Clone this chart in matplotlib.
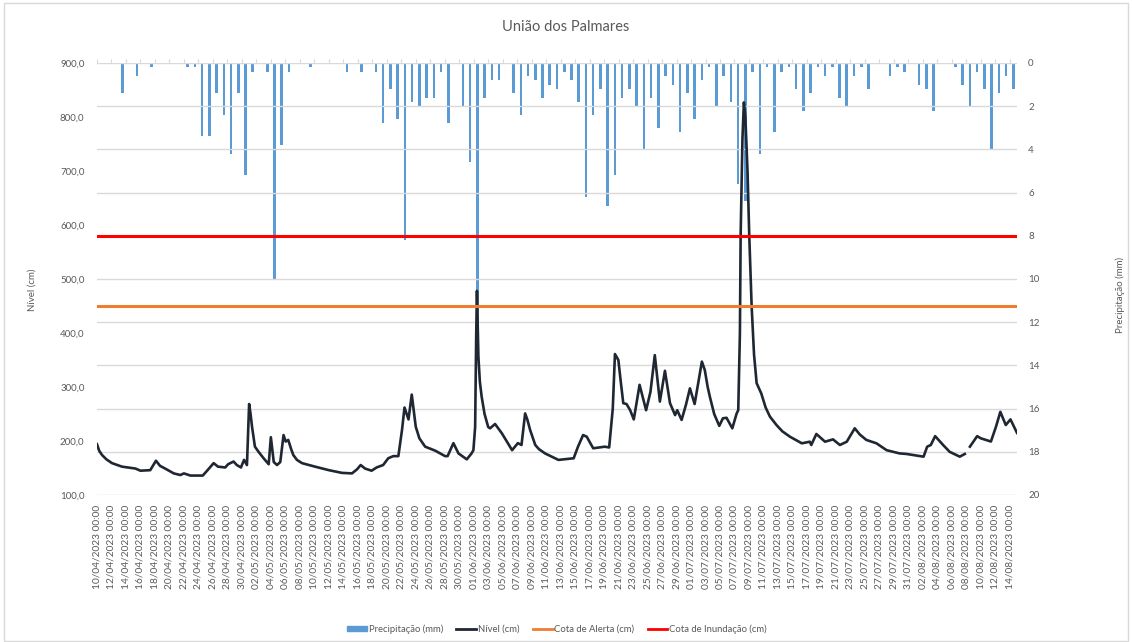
import numpy as np
import pandas as pd
import matplotlib
matplotlib.use("Agg")
import matplotlib.pyplot as plt
from matplotlib.patches import Patch, Rectangle
from matplotlib.lines import Line2D

plt.rcParams['font.family'] = ['Lato', 'DejaVu Sans']

# Precipitação diária (mm), de 10/04/2023 a 14/08/2023 (127 dias)
inicio = pd.Timestamp('2023-04-10')
datas = pd.date_range(inicio, '2023-08-14', freq='D')
precip = np.zeros(len(datas))
precip_dias = [3, 5, 7, 12, 13, 14, 15, 16, 17, 18, 19, 20, 21, 23, 24, 25, 26, 29,
               34, 36, 38, 39, 40, 41, 42, 43, 44, 45, 46, 47, 48, 50, 51, 52, 53,
               54, 55, 57, 58, 59, 60, 61, 62, 63, 64, 65, 66, 67, 68, 69, 70, 71,
               72, 73, 74, 75, 76, 77, 78, 79, 80, 81, 82, 83, 84, 85, 86, 87, 88,
               89, 90, 91, 92, 93, 94, 95, 96, 97, 98, 99, 100, 101, 102, 103, 104,
               105, 106, 109, 110, 111, 113, 114, 115, 118, 119, 120, 121, 122, 123,
               124, 125, 126]
precip_vals = [1.4, 0.6, 0.2, 0.2, 0.2, 3.4, 3.4, 1.4, 2.4, 4.2, 1.4, 5.2, 0.4, 0.4,
               10.0, 3.8, 0.4, 0.2,
               0.4, 0.4, 0.4, 2.8, 1.2, 2.6, 8.2, 1.8, 2.0, 1.6, 1.6, 0.4, 2.8, 2.0,
               4.6, 13.6, 1.6, 0.8, 0.8, 1.4, 2.4, 0.6, 0.8, 1.6, 1.0, 1.2, 0.4,
               0.8, 1.8, 6.2, 2.4, 1.2, 6.6, 5.2, 1.6, 1.2, 2.0, 4.0, 1.6, 3.0,
               0.6, 1.0, 3.2, 1.4, 2.6, 0.8, 0.2, 2.0, 0.6, 1.8, 5.6, 6.4, 0.4,
               4.2, 0.2, 3.2, 0.4, 0.2, 1.2, 2.2, 1.4, 0.2, 0.6, 0.2, 1.6, 2.0,
               0.6, 0.2, 1.2, 0.6, 0.2, 0.4, 1.0, 1.2, 2.2, 0.2, 1.0, 2.0, 0.4,
               1.2, 4.0, 1.4, 0.6, 1.2]
precip[precip_dias] = precip_vals

# Nível (cm): instante em dias desde 10/04/2023 00:00 e valor lido
nivel_t = [0, 0.3, 0.7, 1.3, 2.07, 3.45, 5.3, 6.0, 7.35, 8.14, 8.7, 9.4, 10.6, 11.5,
           12.0, 12.9, 14.6, 15.2, 16.1, 16.7, 17.7, 18.1, 18.85, 19.3, 19.87,
           20.3, 20.7, 21.0, 21.2, 21.4, 21.8, 22.3, 23.0, 23.7, 24.0, 24.4, 24.85,
           25.3, 25.75, 26.05, 26.4, 26.8, 27.1, 27.6, 28.3, 30.1, 32.0, 33.8, 35.2,
           35.9, 36.4, 37.0, 37.9, 38.6, 39.5, 40.2, 40.9, 41.6, 42.1, 42.45, 43.0,
           43.45, 44.0, 44.5, 45.3, 46.7, 48.05, 48.4, 49.2, 49.9, 51.05, 51.7,
           51.96, 52.2, 52.35, 52.45, 52.65, 52.85, 53.1, 53.5, 54.0, 54.26, 54.95,
           55.9, 57.3, 58.1, 58.6, 59.1, 59.4, 59.8, 60.5, 61.0, 61.85, 63.7, 65.8,
           66.4, 67.1, 67.6, 68.5, 70.1, 70.7, 71.2, 71.5, 71.97, 72.3, 72.65, 73.1,
           73.6, 74.1, 74.9, 75.8, 76.4, 77.0, 77.7, 78.4, 79.1, 79.8, 80.1, 80.7,
           81.3, 81.85, 82.5, 83.5, 83.9, 84.3, 84.6, 85.2, 85.9, 86.4, 86.9, 87.7,
           88.3, 88.52, 88.75, 88.85, 89.1, 89.3, 89.5, 89.8, 90.04, 90.37, 90.7,
           91.06, 91.7, 92.3, 92.9, 93.8, 94.6, 95.65, 97.3, 98.4, 98.6, 99.3,
           100.5, 101.6, 102.55, 103.5, 104.6, 105.3, 106.2, 107.6, 109.0, 110.8,
           111.75, 113.6, 114.1, 114.6, 115.1, 115.7, 116.3, 116.8, 117.7, 119.1,
           119.8, 120.1, 120.5, 121.5, 122.0, 123.4, 124.1, 124.7, 125.45, 126.1,
           127.0]
nivel = [194, 182, 174, 166, 159, 152.5, 149, 145, 146, 163.5, 154, 149, 140, 137,
         140, 136, 136, 145, 159, 152.5, 151, 157, 162, 155.5, 151,
         165, 155.5, 268.5, 250, 226.5, 189.5, 180, 168, 157, 207, 161, 155.5,
         161, 211, 199, 202, 185, 174, 165, 159, 152.5, 146, 141, 140,
         147.6, 155.5, 149, 145, 151, 155.5, 168, 172, 172, 220, 262, 240,
         286, 226.5, 205, 189.5, 182, 172, 172, 196, 177, 166, 177,
         183, 226, 400, 478, 356, 310, 282, 250, 226, 223.5, 231.5,
         214, 183, 196, 192.6, 251, 240, 220, 192.6, 185, 177, 165, 168,
         189.5, 211, 208, 186.5, 189.5, 188, 260, 361, 350, 310, 270, 268.5,
         257, 240, 304, 257, 291, 359, 273, 330, 270, 248, 257, 239,
         267, 297.5, 268.5, 347, 331.5, 300, 282, 250, 228, 242, 243, 223.5,
         251, 257, 400, 580, 760, 827, 800, 700, 580, 449, 360,
         307, 288, 262, 245, 229.6, 218, 208, 195.7, 198.7, 192.6, 213,
         198.7, 203, 192.6, 198.7, 223.5, 212, 202, 195.7, 183, 177,
         176, 172, 171, 189.5, 192.6, 209, 200, 192.6, 180, 171,
         176, np.nan, 189.5, 209, 205, 199, 226.5, 254, 229.6, 240,
         215]

cota_alerta = 450
cota_inundacao = 580

cinza = '#595959'
fig = plt.figure(figsize=(11.32, 6.42), dpi=100)
ax = fig.add_axes([97 / 1132, 1 - 495 / 642, 920 / 1132, 432 / 642])
ax2 = ax.twinx()

# barras de precipitação no eixo secundário (invertido)
ax2.bar(np.arange(len(datas)) + 0.5, precip, width=0.35, color='#5b9bd5')
ax2.set_ylim(20, 0)
ax2.set_yticks(np.arange(0, 21, 2))
ax2.grid(axis='y', color='#d9d9d9', linewidth=1)
ax2.tick_params(axis='y', length=0, labelsize=7, labelcolor=cinza, pad=8)

# nível e cotas no eixo principal
ax.plot(nivel_t, nivel, color='#1f2733', linewidth=1.9, solid_joinstyle='round')
ax.axhline(cota_alerta, color='#ed7d31', linewidth=2.2)
ax.axhline(cota_inundacao, color='#ff0000', linewidth=2.2)
ax.set_zorder(ax2.get_zorder() + 1)
ax.patch.set_visible(False)

ax.set_ylim(100, 900)
ax.set_yticks(np.arange(100, 901, 100))
ax.set_yticklabels([f'{v:.1f}'.replace('.', ',') for v in range(100, 901, 100)])
ax.tick_params(axis='y', length=0, labelsize=7, labelcolor=cinza, pad=9)

ax.set_xlim(0, 127)
ticks = np.arange(0, 127, 2)
ax.set_xticks(ticks)
ax.set_xticklabels([(inicio + pd.Timedelta(days=int(d))).strftime('%d/%m/%Y 00:00')
                    for d in ticks], rotation=90)
ax.tick_params(axis='x', labelsize=7.3, labelcolor=cinza, bottom=False, top=True,
               length=3, color='#d9d9d9', pad=4)

for a in (ax, ax2):
    for s in a.spines.values():
        s.set_visible(False)

fig.text(0.5, 1 - 27 / 642, 'União dos Palmares', ha='center', va='center',
         fontsize=10.5, color=cinza)
fig.text(32 / 1132, 1 - 290 / 642, 'Nível (cm)', rotation=90, ha='center',
         va='center', fontsize=7, color=cinza)
fig.text(1120 / 1132, 1 - 295 / 642, 'Precipitação (mm)', rotation=90,
         ha='center', va='center', fontsize=7, color=cinza)

handles = [Patch(color='#5b9bd5'),
           Line2D([], [], color='#1f2733', linewidth=2),
           Line2D([], [], color='#ed7d31', linewidth=2),
           Line2D([], [], color='#ff0000', linewidth=2)]
rotulos = ['Precipitação (mm)', 'Nível (cm)', 'Cota de Alerta (cm)',
           'Cota de Inundação (cm)']
leg = fig.legend(handles, rotulos, loc='center', bbox_to_anchor=(557 / 1132, 1 - 629 / 642),
                 ncol=4, frameon=False, fontsize=6.8, handlelength=2.1,
                 handleheight=0.5, columnspacing=1.4, handletextpad=0.2)
for t in leg.get_texts():
    t.set_color(cinza)

fig.add_artist(Rectangle((4 / 1132, 1 / 642), 1124 / 1132, 638 / 642,
                         transform=fig.transFigure, fill=False,
                         edgecolor='#d9d9d9', linewidth=1))

fig.savefig('out.png', dpi=100)
